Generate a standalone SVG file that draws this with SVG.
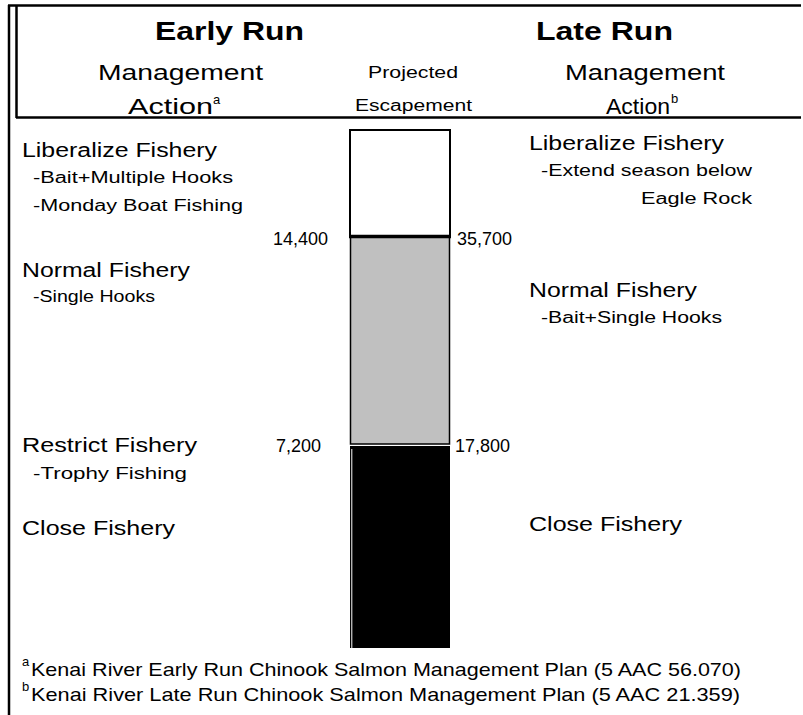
<svg xmlns="http://www.w3.org/2000/svg" width="803" height="715" viewBox="0 0 803 715">
<style>
text{font-family:"Liberation Sans",Arial,sans-serif;fill:#000}
.title{font-size:26px;font-weight:bold}
.hdr{font-size:22px}
.hsm{font-size:16px}
.h{font-size:20px}
.s{font-size:16px}
.num{font-size:18px}
.fn{font-size:19px}
.sup{font-size:13px}
.ln{stroke:#000;stroke-width:2.5;fill:none}
</style>
<g id="frame">
<line class="ln" x1="9" y1="5" x2="9" y2="715"/>
<line class="ln" x1="8" y1="5.5" x2="801" y2="5.5"/>
<line class="ln" x1="16.5" y1="5" x2="16.5" y2="118"/>
<line class="ln" x1="16" y1="117.5" x2="801" y2="117.5"/>
</g>
<g id="header">
<text class="title" x="155" y="40" textLength="149" lengthAdjust="spacingAndGlyphs">Early Run</text>
<text class="title" x="536" y="40" textLength="137" lengthAdjust="spacingAndGlyphs">Late Run</text>
<text class="hdr" x="98" y="80" textLength="165" lengthAdjust="spacingAndGlyphs">Management</text>
<text class="hdr" x="565" y="80" textLength="160" lengthAdjust="spacingAndGlyphs">Management</text>
<text class="hdr" x="128" y="114" textLength="85" lengthAdjust="spacingAndGlyphs">Action</text>
<text class="sup" x="213" y="104">a</text>
<text class="hdr" x="606" y="114" textLength="64" lengthAdjust="spacingAndGlyphs">Action</text>
<text class="sup" x="671" y="103">b</text>
<text class="hsm" x="368" y="78" textLength="90" lengthAdjust="spacingAndGlyphs">Projected</text>
<text class="hsm" x="355" y="111" textLength="117" lengthAdjust="spacingAndGlyphs">Escapement</text>
</g>
<g id="bar">
<rect x="350" y="130" width="100" height="106" fill="#fff" stroke="#000" stroke-width="2"/>
<rect x="350.5" y="237" width="99" height="207" fill="#c0c0c0" stroke="#000" stroke-width="1.5"/>
<line x1="349" y1="236.5" x2="451" y2="236.5" stroke="#000" stroke-width="3.5"/>
<rect x="350" y="446" width="100" height="202" fill="#000"/>
<line x1="351.8" y1="449" x2="351.8" y2="648" stroke="#fff" stroke-width="1"/>
</g>
<g id="early-run">
<text class="h" x="22" y="157" textLength="195" lengthAdjust="spacingAndGlyphs">Liberalize Fishery</text>
<text class="s" x="33" y="183" textLength="200" lengthAdjust="spacingAndGlyphs">-Bait+Multiple Hooks</text>
<text class="s" x="33" y="211" textLength="210" lengthAdjust="spacingAndGlyphs">-Monday Boat Fishing</text>
<text class="h" x="22" y="277" textLength="168" lengthAdjust="spacingAndGlyphs">Normal Fishery</text>
<text class="s" x="33" y="302" textLength="122" lengthAdjust="spacingAndGlyphs">-Single Hooks</text>
<text class="h" x="22" y="452" textLength="175" lengthAdjust="spacingAndGlyphs">Restrict Fishery</text>
<text class="s" x="33" y="479" textLength="154" lengthAdjust="spacingAndGlyphs">-Trophy Fishing</text>
<text class="h" x="22" y="535" textLength="153" lengthAdjust="spacingAndGlyphs">Close Fishery</text>
<text class="num" x="328" y="245" text-anchor="end">14,400</text>
<text class="num" x="321" y="452" text-anchor="end">7,200</text>
</g>
<g id="late-run">
<text class="num" x="457" y="245">35,700</text>
<text class="num" x="455" y="452">17,800</text>
<text class="h" x="529" y="150" textLength="195" lengthAdjust="spacingAndGlyphs">Liberalize Fishery</text>
<text class="s" x="541" y="176" textLength="211" lengthAdjust="spacingAndGlyphs">-Extend season below</text>
<text class="s" x="641" y="204" textLength="111" lengthAdjust="spacingAndGlyphs">Eagle Rock</text>
<text class="h" x="529" y="297" textLength="168" lengthAdjust="spacingAndGlyphs">Normal Fishery</text>
<text class="s" x="541" y="323" textLength="181" lengthAdjust="spacingAndGlyphs">-Bait+Single Hooks</text>
<text class="h" x="529" y="531" textLength="153" lengthAdjust="spacingAndGlyphs">Close Fishery</text>
</g>
<g id="footnotes">
<text class="sup" x="22" y="666">a</text>
<text class="fn" x="31" y="676" textLength="710" lengthAdjust="spacingAndGlyphs">Kenai River Early Run Chinook Salmon Management Plan (5 AAC 56.070)</text>
<text class="sup" x="22" y="691">b</text>
<text class="fn" x="31" y="701" textLength="709" lengthAdjust="spacingAndGlyphs">Kenai River Late Run Chinook Salmon Management Plan (5 AAC 21.359)</text>
</g>
</svg>
